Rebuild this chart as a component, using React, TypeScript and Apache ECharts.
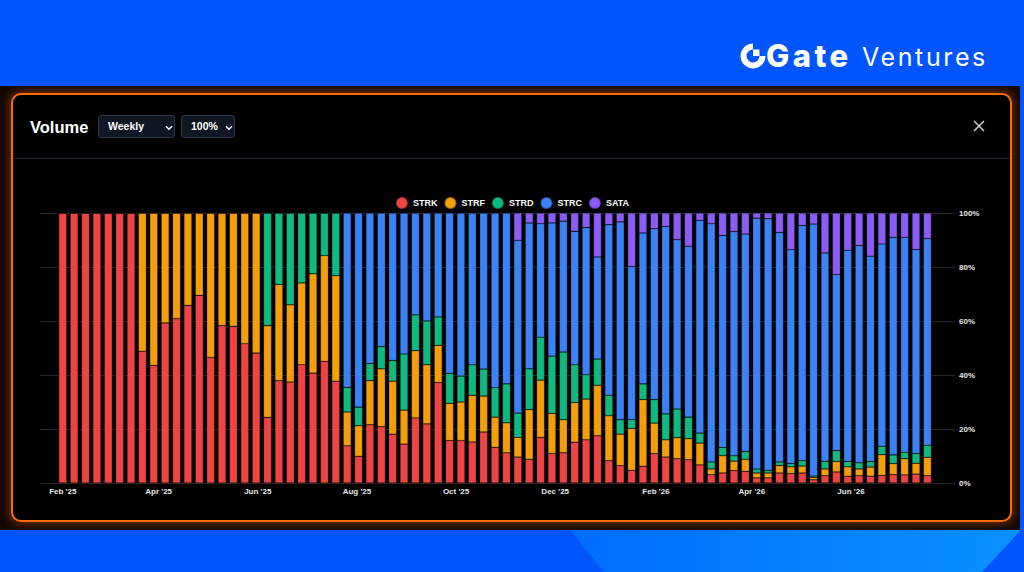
import React, { useEffect, useRef } from "react";
import * as echarts from "echarts";

// ---------- data ----------
const seriesNames = ["STRK", "STRF", "STRD", "STRC", "SATA"];
const seriesColors = ["#ef4444", "#f59e0b", "#10b981", "#3b82f6", "#8b5cf6"];

const DAY = 86400000;
const firstWeek = Date.UTC(2025, 1, 1);
const weekCount = 77;
// weekly buckets, starting Feb 1 2025
const weeks = Array.from({ length: weekCount }, (_, i) => {
  const d = new Date(firstWeek + i * 7 * DAY);
  return d.toISOString().slice(0, 10);
});

const tickDates = [
  Date.UTC(2025, 1, 1), Date.UTC(2025, 3, 1), Date.UTC(2025, 5, 1), Date.UTC(2025, 7, 1),
  Date.UTC(2025, 9, 1), Date.UTC(2025, 11, 1), Date.UTC(2026, 1, 1), Date.UTC(2026, 3, 1),
  Date.UTC(2026, 5, 1),
];
const tickLabels = ["Feb '25", "Apr '25", "Jun '25", "Aug '25", "Oct '25", "Dec '25", "Feb '26", "Apr '26", "Jun '26"];
const axisStart = Date.UTC(2025, 0, 18);
const axisEnd = Date.UTC(2026, 7, 4);

const strk = [
  100, 100, 100, 100, 100, 100, 100,
  48.8, 43.6, 59.3, 60.9, 65.8, 69.5, 46.5, 58.3, 58.0, 51.6, 48.1,
  24.3, 37.9, 37.4, 43.8, 40.7, 45.1, 37.7,
  13.8, 9.9, 21.6, 20.9, 18.1, 14.4, 24.1, 21.9, 37.2, 15.7, 15.7, 15.2, 18.9, 13.2, 11.2,
  9.6, 8.8, 16.9, 10.9, 11.2, 15.1, 16.0, 17.5, 8.3, 6.4,
  4.7, 6.2, 10.9, 9.6, 9.0, 8.6, 6.7, 3.1, 3.7, 4.6,
  4.3, 1.9, 1.9, 3.7, 3.5, 3.7, 1.2, 2.7, 4.1, 2.5,
  2.7, 2.5, 2.8, 3.1, 3.0, 3.3, 2.7,
];
const strf = [
  0, 0, 0, 0, 0, 0, 0,
  51.2, 56.4, 40.7, 39.1, 34.2, 30.5, 53.5, 41.7, 42.0, 48.4, 51.9,
  34.0, 35.6, 28.6, 30.3, 36.8, 39.1, 39.1,
  12.5, 11.3, 16.3, 21.4, 19.6, 12.6, 24.9, 21.9, 13.8, 13.8, 14.3, 17.3, 13.3, 11.2, 11.1,
  7.3, 18.4, 21.2, 14.9, 12.3, 14.7, 15.1, 18.7, 16.6, 11.7,
  15.5, 24.7, 11.3, 6.4, 7.8, 7.8, 8.1, 2.1, 6.4, 3.5,
  4.5, 1.8, 1.8, 2.8, 2.5, 2.6, 0.9, 2.5, 3.9, 3.5,
  2.5, 3.4, 7.7, 4.1, 6.0, 4.0, 6.8,
];
const strd = [
  0, 0, 0, 0, 0, 0, 0,
  0, 0, 0, 0, 0, 0, 0, 0, 0, 0, 0,
  41.7, 26.5, 34.0, 25.9, 22.5, 15.8, 23.2,
  9.1, 6.9, 6.3, 8.2, 7.7, 20.8, 13.3, 16.2, 10.5, 11.1, 9.6, 11.3, 10.0, 10.9, 14.4,
  9.0, 15.1, 15.9, 21.2, 25.0, 14.0, 9.0, 9.7, 7.6, 5.4,
  3.3, 5.8, 8.7, 9.6, 10.6, 8.0, 3.7, 2.6, 3.1, 2.0,
  2.9, 1.5, 1.0, 1.3, 1.2, 2.0, 0.5, 2.8, 4.0, 2.0,
  2.3, 2.1, 3.1, 3.2, 2.4, 3.6, 4.5,
];
const strc = [
  0, 0, 0, 0, 0, 0, 0,
  0, 0, 0, 0, 0, 0, 0, 0, 0, 0, 0,
  0, 0, 0, 0, 0, 0, 0,
  64.6, 71.9, 55.8, 49.5, 54.6, 52.2, 37.7, 40.0, 38.5, 59.4, 60.4, 56.2, 57.8, 64.7, 63.3,
  64.0, 54.0, 42.0, 49.3, 48.5, 49.4, 54.5, 37.8, 63.2, 73.2,
  56.7, 55.9, 63.3, 69.4, 62.7, 63.3, 78.8, 88.2, 78.5, 83.0,
  80.5, 92.9, 93.2, 85.0, 79.2, 87.1, 93.3, 77.2, 65.2, 78.2,
  80.4, 76.0, 74.9, 80.6, 79.6, 75.5, 76.5,
];
const sata = [
  0, 0, 0, 0, 0, 0, 0,
  0, 0, 0, 0, 0, 0, 0, 0, 0, 0, 0,
  0, 0, 0, 0, 0, 0, 0,
  0, 0, 0, 0, 0, 0, 0, 0, 0, 0, 0, 0, 0, 0, 0,
  10.1, 3.7, 4.0, 3.7, 3.0, 6.8, 5.4, 16.3, 4.3, 3.3,
  19.8, 7.4, 5.8, 5.0, 9.9, 12.3, 2.7, 4.0, 8.3, 6.9,
  7.8, 1.9, 2.1, 7.2, 13.6, 4.6, 4.1, 14.8, 22.8, 13.8,
  12.1, 16.0, 11.5, 9.0, 9.0, 13.6, 9.5,
];
const seriesValues = [strk, strf, strd, strc, sata];

// ---------- chart ----------
const FONT = '"Liberation Sans", Arial, Helvetica, sans-serif';

function buildOption() {
  const totals = weeks.map((_, i) => seriesValues.reduce((s, arr) => s + arr[i], 0));
  const dayOf = (t: number) => Math.round((t - firstWeek) / DAY);
  const tickDays = tickDates.map(dayOf);
  const minDay = dayOf(axisStart);
  const maxDay = dayOf(axisEnd);
  // place the bar grid so that week i is centred at day 7*i on the frame axis
  const frameLeft = 40;
  const frameRight = 955;
  const pxPerDay = (frameRight - frameLeft) / (maxDay - minDay);
  const bandPx = 7 * pxPerDay;
  const barsLeft = frameLeft + (0 - minDay) * pxPerDay - bandPx / 2;
  const barsRight = barsLeft + bandPx * weekCount;
  return {
    animation: false,
    backgroundColor: "transparent",
    textStyle: { fontFamily: FONT },
    legend: {
      data: seriesNames,
      top: 196,
      left: "center",
      padding: 0,
      icon: "circle",
      itemWidth: 12,
      itemHeight: 12,
      itemGap: 6,
      textStyle: { color: "#ffffff", fontSize: 9, fontWeight: "bold", fontFamily: FONT },
    },
    grid: [
      { left: frameLeft, right: 1024 - frameRight, top: 213, bottom: 89, containLabel: false },
      { left: barsLeft, right: 1024 - barsRight, top: 213, bottom: 89, containLabel: false },
    ],
    xAxis: [
      {
        gridIndex: 0,
        type: "value",
        min: minDay,
        max: maxDay,
        axisLine: { show: true, onZero: false, lineStyle: { color: "#262626", width: 1 } },
        axisTick: { show: false },
        splitLine: { show: false },
        axisLabel: {
          customValues: tickDays,
          formatter: (v: number) => {
            const i = tickDays.indexOf(Math.round(v));
            return i >= 0 ? tickLabels[i] : "";
          },
          color: "#e8e8e8",
          fontSize: 8,
          fontWeight: "bold",
          fontFamily: FONT,
          margin: 4,
        },
      },
      {
        gridIndex: 1,
        type: "category",
        data: weeks,
        boundaryGap: true,
        show: false,
      },
    ],
    yAxis: [
      {
        gridIndex: 0,
        type: "value",
        position: "right",
        min: 0,
        max: 100,
        interval: 20,
        axisLine: { show: false },
        axisTick: { show: false },
        splitLine: { show: true, lineStyle: { color: "#242424", width: 1 } },
        axisLabel: {
          formatter: "{value}%",
          color: "#e8e8e8",
          fontSize: 8,
          fontWeight: "bold",
          fontFamily: FONT,
          margin: 4,
        },
      },
      {
        gridIndex: 1,
        type: "value",
        min: 0,
        max: 100,
        show: false,
        splitLine: { show: false },
      },
    ],
    series: seriesNames.map((name, s) => ({
      name,
      type: "bar",
      xAxisIndex: 1,
      yAxisIndex: 1,
      stack: "total",
      barWidth: 8,
      itemStyle: {
        color: seriesColors[s],
        borderColor: "rgba(0,0,0,0.35)",
        borderWidth: 0.6,
      },
      emphasis: { disabled: true },
      data: weeks.map((_, i) => {
        const v = seriesValues[s][i];
        return v > 0 ? (v / totals[i]) * 100 : 0;
      }),
    })),
  };
}

function GateIcon() {
  return (
    <svg width="26" height="26" viewBox="0 0 26 26" style={{ position: "absolute", left: 740, top: 43 }}>
      <path
        d="M 25.5 13 A 12.5 12.5 0 1 1 13 0.5 L 13 6.5 A 6.5 6.5 0 1 0 19.5 13 Z"
        fill="#ffffff"
      />
      <rect x="13" y="6.5" width="6.5" height="6.5" fill="#ffffff" />
    </svg>
  );
}

function Chevron({ left }: { left: number }) {
  return (
    <svg width="8" height="6" viewBox="0 0 8 6" style={{ position: "absolute", left, top: 9 }}>
      <polyline points="1,1.2 4,4.2 7,1.2" fill="none" stroke="#ffffff" strokeWidth="1.4" />
    </svg>
  );
}

export default function App() {
  const ref = useRef<HTMLDivElement>(null);
  useEffect(() => {
    if (!ref.current) return;
    const chart = echarts.init(ref.current, null, { renderer: "svg" });
    chart.setOption(buildOption() as any);
    return () => chart.dispose();
  }, []);

  const selectBox = (left: number, width: number): React.CSSProperties => ({
    position: "absolute",
    left,
    top: 115,
    width,
    height: 23,
    boxSizing: "border-box",
    background: "#0f1624",
    border: "1px solid #2c3647",
    borderRadius: 3,
    color: "#ffffff",
    fontSize: 10.5,
    fontWeight: "bold",
    lineHeight: "21px",
    paddingLeft: 9,
  });

  return (
    <div
      style={{
        position: "fixed",
        left: 0,
        top: 0,
        width: 1024,
        height: 572,
        overflow: "hidden",
        background: "#0055ff",
        fontFamily: FONT,
      }}
    >
      <div
        style={{
          position: "absolute",
          left: 0,
          top: 0,
          width: 1024,
          height: 572,
          background: "linear-gradient(90deg, #006cff 55%, #0a92ff 100%)",
          clipPath: "polygon(570px 530px, 1021px 530px, 982px 572px, 604px 572px)",
        }}
      />
      <GateIcon />
      <div
        style={{
          position: "absolute",
          left: 766,
          top: 38,
          height: 36,
          lineHeight: "36px",
          color: "#ffffff",
          fontFamily: "Inter, 'Noto Sans', sans-serif",
          fontWeight: 800,
          fontSize: 31,
          letterSpacing: 3.5,
          whiteSpace: "nowrap",
        }}
      >
        Gate
      </div>
      <div
        style={{
          position: "absolute",
          left: 862,
          top: 39,
          height: 36,
          lineHeight: "36px",
          color: "#ffffff",
          fontFamily: "Inter, 'Noto Sans', sans-serif",
          fontWeight: 400,
          fontSize: 25,
          letterSpacing: 2.6,
          whiteSpace: "nowrap",
        }}
      >
        Ventures
      </div>
      <div style={{ position: "absolute", left: 0, top: 86, width: 1020, height: 444, background: "#140903" }} />
      <div
        style={{
          position: "absolute",
          left: 11,
          top: 93,
          width: 1001,
          height: 429,
          boxSizing: "border-box",
          border: "2px solid #ff6a00",
          borderRadius: 10,
          background: "#000000",
          boxShadow: "0 0 8px 2px rgba(255,110,0,0.35)",
        }}
      />
      <div style={{ position: "absolute", left: 13, top: 158, width: 997, height: 1, background: "#1b2634" }} />
      <div
        style={{
          position: "absolute",
          left: 30,
          top: 115,
          height: 24,
          lineHeight: "24px",
          color: "#ffffff",
          fontSize: 16.5,
          fontWeight: "bold",
        }}
      >
        Volume
      </div>
      <div style={selectBox(98, 77)}>
        Weekly
        <Chevron left={66} />
      </div>
      <div style={selectBox(181, 54)}>
        100%
        <Chevron left={43} />
      </div>
      <svg width="12" height="12" viewBox="0 0 12 12" style={{ position: "absolute", left: 973, top: 120 }}>
        <line x1="1" y1="1" x2="11" y2="11" stroke="#d4d4d8" strokeWidth="1.4" />
        <line x1="11" y1="1" x2="1" y2="11" stroke="#d4d4d8" strokeWidth="1.4" />
      </svg>
      <div ref={ref} style={{ position: "absolute", left: 0, top: 0, width: 1024, height: 572 }} />
    </div>
  );
}
